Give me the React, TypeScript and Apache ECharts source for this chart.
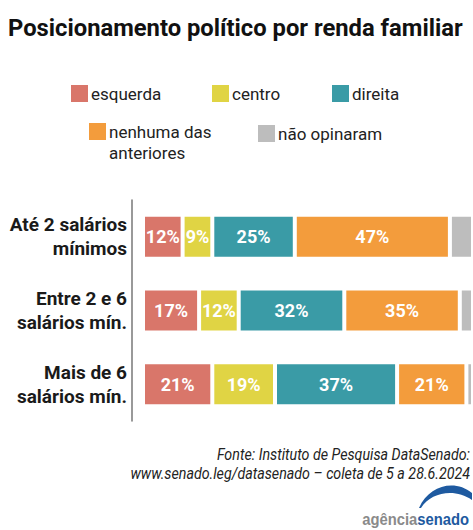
import React, { useEffect, useRef } from "react";
import * as echarts from "echarts";

const categories = ["Até 2 salários\nmínimos", "Entre 2 e 6\nsalários mín.", "Mais de 6\nsalários mín."];
const seriesNames = ["esquerda", "centro", "direita", "nenhuma das anteriores", "não opinaram"];
const esquerda = [12, 17, 21];
const centro = [9, 12, 19];
const direita = [25, 32, 37];
const nenhuma = [47, 35, 21];
const naoOpinaram = [7, 4, 2];
const colors = ["#D9766A", "#E0D444", "#3A9BA6", "#F39C3C", "#BDBDBD"];

const titleText = "Posicionamento político por renda familiar";
const sourceLine1 = "Fonte: Instituto de Pesquisa DataSenado:";
const sourceLine2 = "www.senado.leg/datasenado – coleta de 5 a 28.6.2024";

const FONT = "Roboto, 'Liberation Sans', sans-serif";

echarts.graphic.registerShape(
  "logo",
  echarts.graphic.extendPath("M0 24 C 10 1, 36 -5, 53 9 L 53 16 C 36 4, 12 8, 2 24 Z", {})
);

function measure(text: string, font: string): number {
  const ctx = document.createElement("canvas").getContext("2d")!;
  ctx.font = font;
  return ctx.measureText(text).width;
}

export default function App() {
  const ref = useRef<HTMLDivElement>(null);
  useEffect(() => {
    document.body.style.margin = "0";
    const chart = echarts.init(ref.current!, undefined, { renderer: "svg" });
    const values = [esquerda, centro, direita, nenhuma, naoOpinaram];
    const legendPos = [
      { left: 71, top: 83 },
      { left: 212, top: 83 },
      { left: 332, top: 83 },
      { left: 89, top: 100 },
      { left: 258, top: 123 },
    ];
    const titleScale = 455 / measure(titleText, "bold 23px Roboto");
    const srcScale = 340 / measure(sourceLine2, "italic 16px Roboto");
    chart.setOption({
      animation: false,
      legend: seriesNames.map((n, i) => ({
        data: [n],
        left: legendPos[i].left,
        top: legendPos[i].top,
        padding: 0,
        itemWidth: 17,
        itemHeight: 17,
        itemGap: 4,
        icon: "rect",
        selectedMode: false,
        itemStyle: { borderWidth: 0 },
        formatter: n === "nenhuma das anteriores" ? "\nnenhuma das\nanteriores" : "{name}",
        textStyle: {
          fontFamily: FONT,
          fontSize: 17,
          color: "#222",
          lineHeight: 21,
          padding: [0, 0, 0, -2],
        },
      })),
      grid: { left: 143, right: 0, top: 200, bottom: 109, outerBoundsMode: "none" },
      xAxis: { type: "value", min: 0, max: 100, show: false },
      yAxis: {
        type: "category",
        data: categories,
        inverse: true,
        offset: 11,
        axisLine: { show: true, onZero: false, lineStyle: { color: "#777", width: 1.5 } },
        axisTick: { show: false },
        axisLabel: {
          margin: 5,
          fontFamily: FONT,
          fontSize: 19,
          fontWeight: "bold",
          lineHeight: 24,
          color: "#1a1a1a",
          align: "right",
        },
      },
      series: seriesNames.map((n, i) => ({
        name: n,
        type: "bar",
        stack: "total",
        barWidth: 44,
        data: values[i],
        itemStyle: { color: colors[i], borderColor: "#fff", borderWidth: 2 },
        label: {
          show: i < 4,
          position: "inside",
          formatter: "{c}%",
          fontFamily: FONT,
          fontSize: 18,
          fontWeight: "bold",
          color: "#fff",
        },
      })),
      graphic: [
        {
          type: "text",
          x: 8,
          y: 17,
          scaleX: titleScale,
          style: {
            text: titleText,
            fontFamily: FONT,
            fontSize: 23,
            fontWeight: "bold",
            fill: "#111",
            align: "left",
            verticalAlign: "top",
          },
        },
        {
          type: "text",
          x: 470,
          y: 445,
          scaleX: srcScale,
          style: {
            text: sourceLine1 + "\n" + sourceLine2,
            fontFamily: FONT,
            fontStyle: "italic",
            fontSize: 16,
            lineHeight: 19,
            fill: "#222",
            align: "right",
            verticalAlign: "top",
          },
        },
        {
          type: "text",
          x: 469,
          y: 519,
          scaleX: 0.87,
          style: {
            text: "{a|agência}{b|senado}",
            align: "right",
            verticalAlign: "middle",
            rich: {
              a: { fontFamily: "'Liberation Sans', sans-serif", fontSize: 17, fontWeight: "bold", fill: "#8a8a8a" },
              b: { fontFamily: "'Liberation Sans', sans-serif", fontSize: 17, fontWeight: "bold", fill: "#1E5AA0" },
            },
          },
        },
        {
          type: "logo",
          x: 419,
          y: 484,
          scaleX: 1,
          scaleY: 1,
          style: { fill: "#1E5AA0" },
        },
      ],
    });
    return () => chart.dispose();
  }, []);
  return <div ref={ref} style={{ width: 473, height: 530 }} />;
}
